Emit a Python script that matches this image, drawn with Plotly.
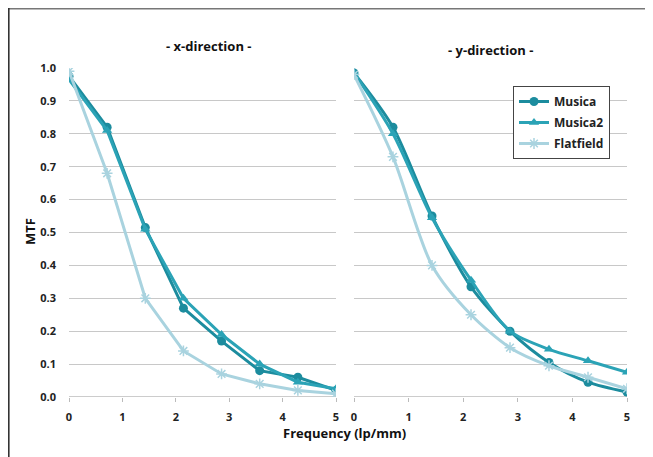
import plotly.graph_objects as go

freq = [0, 0.714, 1.429, 2.143, 2.857, 3.571, 4.286, 5]

x_musica = [0.975, 0.82, 0.515, 0.27, 0.17, 0.08, 0.06, 0.02]
x_musica2 = [0.965, 0.81, 0.51, 0.30, 0.19, 0.10, 0.045, 0.025]
x_flat = [0.99, 0.68, 0.30, 0.14, 0.07, 0.04, 0.02, 0.01]

y_musica = [0.985, 0.82, 0.55, 0.335, 0.20, 0.105, 0.045, 0.015]
y_musica2 = [0.985, 0.80, 0.545, 0.355, 0.20, 0.145, 0.11, 0.075]
y_flat = [0.98, 0.73, 0.40, 0.25, 0.15, 0.095, 0.06, 0.025]

names = ["Musica", "Musica2", "Flatfield"]
colors = ["#1C8C9E", "#2BA3B6", "#A9D3DF"]
symbols = ["circle", "triangle-up", "asterisk-open"]

# page has an 8px body margin; figure placed accordingly
OFF = 8
W, H = 653 - OFF, 457 - OFF
FONT = "Open Sans"

def px(x):
    return (x - OFF) / W

def py(y):
    return 1 - (y - OFF) / H

fig = go.Figure()

def add(xs, ys, i, xa, ya, show, shape):
    marker = dict(symbol=symbols[i], size=9, color=colors[i])
    if symbols[i].startswith("asterisk"):
        marker = dict(symbol=symbols[i], size=9, color=colors[i],
                      line=dict(color=colors[i], width=1.5))
    fig.add_trace(go.Scatter(
        x=xs, y=ys, mode="lines+markers", name=names[i],
        legendgroup=names[i], showlegend=show,
        line=dict(color=colors[i], width=3, shape=shape, smoothing=0.8),
        marker=marker, xaxis=xa, yaxis=ya))

for i, ys in enumerate([x_musica, x_musica2, x_flat]):
    add(freq, ys, i, "x", "y", False, "linear")
for i, ys in enumerate([y_musica, y_musica2, y_flat]):
    add(freq, ys, i, "x2", "y2", True, "spline")

tickfont = dict(family=FONT, size=11, color="#222222", weight="bold")

axis_common = dict(range=[0, 5], tickvals=[0, 1, 2, 3, 4, 5],
                   ticks="outside", ticklen=4, tickcolor="#BBBBBB",
                   showgrid=False, zeroline=False, showline=False,
                   automargin=False, ticklabelstandoff=6,
                   tickfont=tickfont)
yaxis_common = dict(range=[0, 1.0], dtick=0.1, tickformat=".1f",
                    showgrid=True, gridcolor="#C8C8C8", gridwidth=1.3,
                    zeroline=False, showline=False, ticks="",
                    automargin=False, ticklabelstandoff=12,
                    tickfont=tickfont)

fig.update_layout(
    width=W, height=H, margin=dict(l=0, r=0, t=0, b=0, autoexpand=False),
    paper_bgcolor="white", plot_bgcolor="white",
    xaxis=dict(domain=[px(69), px(336)], anchor="y", **axis_common),
    xaxis2=dict(domain=[px(354), px(627)], anchor="y2", **axis_common),
    yaxis=dict(domain=[py(397), py(68)], anchor="x", showticklabels=True, **yaxis_common),
    yaxis2=dict(domain=[py(397), py(68)], anchor="x2", showticklabels=False, **yaxis_common),
    showlegend=True,
    legend=dict(x=px(513), y=py(86), xanchor="left", yanchor="top",
                bordercolor="#444444", borderwidth=1, bgcolor="white",
                font=dict(family=FONT, size=12, color="#222222", weight="bold"),
                itemwidth=30, tracegroupgap=2),
    font=dict(family=FONT),
)

fig.add_shape(type="line", xref="x", yref="y", x0=0, x1=5, y0=0, y1=0,
              line=dict(color="#BBBBBB", width=1.3), layer="below")
fig.add_shape(type="line", xref="x2", yref="y2", x0=0, x1=5, y0=0, y1=0,
              line=dict(color="#BBBBBB", width=1.3), layer="below")

# outer frame (top and left edges)
fig.add_shape(type="line", xref="paper", yref="paper", x0=0, x1=1,
              y0=1 - 0.8 / H, y1=1 - 0.8 / H,
              line=dict(color="#777777", width=1.6))
fig.add_shape(type="line", xref="paper", yref="paper", x0=0.8 / W, x1=0.8 / W,
              y0=0, y1=1, line=dict(color="#333333", width=1.6))

titlefont = dict(family=FONT, size=13, color="#111111", weight="bold")
common = dict(xref="paper", yref="paper", showarrow=False,
              xanchor="center", yanchor="middle", font=titlefont)
fig.add_annotation(text="- x-direction -", x=px(208), y=py(46), **common)
fig.add_annotation(text="- y-direction -", x=px(490), y=py(50), **common)
fig.add_annotation(text="MTF", x=px(30), y=py(232), textangle=-90, **common)
fig.add_annotation(text="Frequency (lp/mm)", x=px(345), y=py(433), **common)

fig.write_html("out.html")
